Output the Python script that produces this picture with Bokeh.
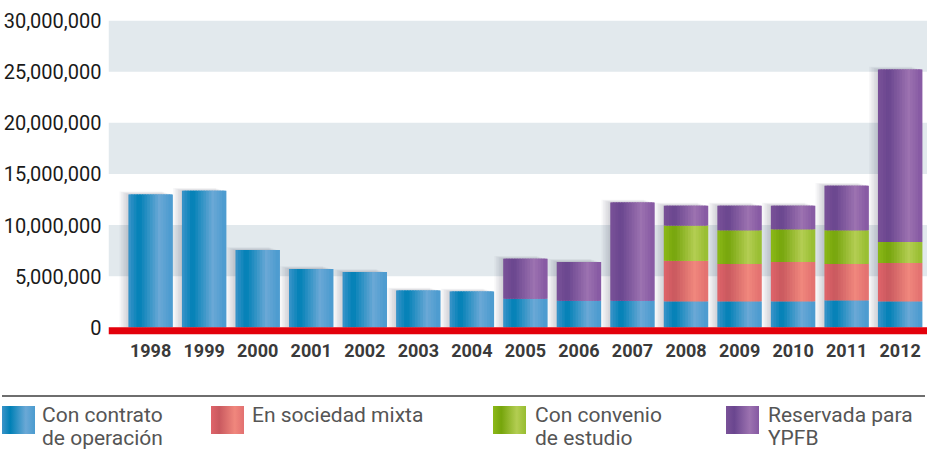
import numpy as np
from bokeh.plotting import figure
from bokeh.models import Range1d, BoxAnnotation, ColumnDataSource, FixedTicker, NumeralTickFormatter, Div
from bokeh.layouts import column
from bokeh.embed import file_html
from bokeh.resources import INLINE

# ---------------- data ----------------
years = ["1998", "1999", "2000", "2001", "2002", "2003", "2004", "2005",
         "2006", "2007", "2008", "2009", "2010", "2011", "2012"]
contrato = [13000000, 13350000, 7550000, 5700000, 5400000, 3600000, 3500000, 2800000,
            2600000, 2600000, 2550000, 2550000, 2550000, 2650000, 2550000]
sociedad = [0, 0, 0, 0, 0, 0, 0, 0, 0, 0, 3950000, 3650000, 3850000, 3550000, 3750000]
convenio = [0, 0, 0, 0, 0, 0, 0, 0, 0, 0, 3450000, 3300000, 3200000, 3300000, 2050000]
reservada = [0, 0, 0, 0, 0, 0, 0, 3900000, 3800000, 9600000, 1950000, 2400000, 2300000,
             4350000, 16850000]
series_names = ["Con contrato\nde operación", "En sociedad mixta",
                "Con convenio\nde estudio", "Reservada para\nYPFB"]
y_ticks = [0, 5000000, 10000000, 15000000, 20000000, 25000000, 30000000]

# ---------------- styles ----------------
FONT = "Roboto"
gradients = [
    ["#3b94c9", "#0080b6", "#6aa8d6", "#4a9bcf"],   # blue
    ["#e0646a", "#c9595f", "#f0877d", "#e27070"],   # red
    ["#8cb918", "#76a50c", "#b3cd52", "#97bd30"],   # green
    ["#7a5298", "#6a468f", "#9c72b0", "#8558a2"],   # purple
]
stops = [0.0, 0.25, 0.72, 1.0]
BAR_W = 0.8
NSTRIP = 16


def hex2rgb(h):
    h = h.lstrip("#")
    return np.array([int(h[i:i + 2], 16) for i in (0, 2, 4)], dtype=float)


def grad_color(cols, t):
    rgbs = [hex2rgb(c) for c in cols]
    for i in range(len(stops) - 1):
        if stops[i] <= t <= stops[i + 1]:
            f = (t - stops[i]) / (stops[i + 1] - stops[i])
            c = rgbs[i] * (1 - f) + rgbs[i + 1] * f
            return "#%02x%02x%02x" % tuple(int(round(v)) for v in c)
    return cols[-1]


xpos = np.arange(len(years), dtype=float)
series = [np.array(contrato, float), np.array(sociedad, float),
          np.array(convenio, float), np.array(reservada, float)]
totals = sum(series)

p = figure(frame_width=819, frame_height=314, output_backend="svg", toolbar_location=None,
           x_range=Range1d(-0.787, 14.51), y_range=Range1d(-700000, 30000000),
           min_border_left=106, min_border_right=0, min_border_top=20, min_border_bottom=42)
p.outline_line_color = None
p.xgrid.visible = False
p.ygrid.visible = False

# background bands
for i in range(1, len(y_ticks) - 1, 2):
    p.add_layout(BoxAnnotation(bottom=y_ticks[i], top=y_ticks[i + 1], fill_color="#e2e9ed",
                               fill_alpha=1, line_color=None, level="underlay"))

# soft shadows on the left of each bar
for k in range(1, 7):
    p.vbar(x=xpos - 0.03 * k, width=BAR_W, bottom=0, top=totals + 45000 * k,
           fill_color="#303840", fill_alpha=0.04, line_color=None)

# stacked gradient bars
bottom = np.zeros(len(years))
for s, cols in zip(series, gradients):
    top = bottom + s
    mask = s > 0
    xs, bs, ts, cs = [], [], [], []
    for j in range(NSTRIP):
        t = (j + 0.5) / NSTRIP
        c = grad_color(cols, t)
        off = -BAR_W / 2 + (j + 0.5) * BAR_W / NSTRIP
        for i in np.where(mask)[0]:
            xs.append(xpos[i] + off)
            bs.append(bottom[i])
            ts.append(top[i])
            cs.append(c)
    src = ColumnDataSource(dict(x=xs, bottom=bs, top=ts, color=cs))
    p.vbar(x=xpos[mask], width=BAR_W, bottom=bottom[mask], top=top[mask],
           fill_color=cols[2], line_color=None)
    p.vbar(x="x", width=BAR_W / NSTRIP * 1.6, bottom="bottom", top="top", source=src,
           fill_color="color", line_color=None)
    bottom = top

# red base line
p.add_layout(BoxAnnotation(top=0, fill_color="#e3000b", fill_alpha=1, line_color=None))

# axes
p.yaxis.ticker = FixedTicker(ticks=y_ticks)
p.yaxis.formatter = NumeralTickFormatter(format="0,0")
p.yaxis.major_label_text_font = FONT
p.yaxis.major_label_text_font_size = "20px"
p.yaxis.major_label_text_color = "#1a1a1a"
p.yaxis.major_label_standoff = 7
p.xaxis.ticker = FixedTicker(ticks=list(range(len(years))))
p.xaxis.major_label_overrides = {i: y for i, y in enumerate(years)}
p.xaxis.major_label_text_font = FONT
p.xaxis.major_label_text_font_style = "bold"
p.xaxis.major_label_text_font_size = "18px"
p.xaxis.major_label_text_color = "#3a3a3a"
p.xaxis.major_label_standoff = 9
for ax in (p.xaxis, p.yaxis):
    ax.axis_line_color = None
    ax.major_tick_line_color = None
    ax.minor_tick_line_color = None
    ax.major_tick_out = 0
    ax.major_tick_in = 0

# ---------------- legend (HTML block under the chart) ----------------
sw_left = [2, 211, 493, 726]
txt_left = [42, 252, 535, 768]
parts = ['<div style="position:relative;width:925px;height:74px;font-family:Roboto,sans-serif;">',
         '<div style="position:absolute;left:2px;top:19px;width:923px;height:2px;background:#6e6e6e;"></div>']
for idx, (name, cols) in enumerate(zip(series_names, gradients)):
    grad = "linear-gradient(to right, %s 0%%, %s 25%%, %s 72%%, %s 100%%)" % tuple(cols)
    parts.append('<div style="position:absolute;left:%dpx;top:30px;width:33px;height:28px;'
                 'background:%s;"></div>' % (sw_left[idx], grad))
    parts.append('<div style="position:absolute;left:%dpx;top:28px;font-size:21px;line-height:23px;'
                 'color:#555555;white-space:nowrap;">%s</div>'
                 % (txt_left[idx], "<br>".join(name.split("\n"))))
parts.append('</div>')
legend = Div(text="".join(parts), width=925, height=74, margin=(0, 0, 0, 0))

layout = column(p, legend, spacing=0)
open("out.html", "w").write(file_html(layout, INLINE))
